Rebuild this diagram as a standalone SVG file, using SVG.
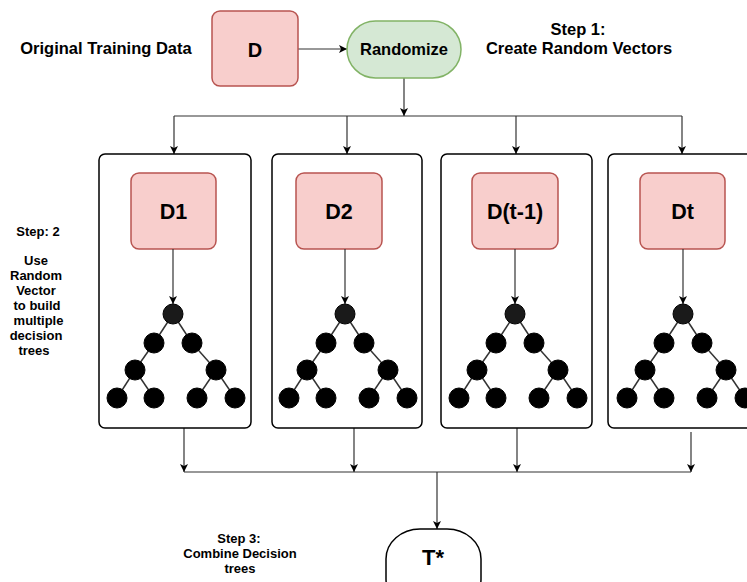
<svg xmlns="http://www.w3.org/2000/svg" xmlns:xlink="http://www.w3.org/1999/xlink" width="747" height="582" viewBox="0 0 747 582">
  <style>
    text { font-family: "Liberation Sans", Arial, sans-serif; fill: #000; text-anchor: middle; }
    .lbl { font-size: 16.5px; font-weight: bold; }
    .note { font-size: 13px; font-weight: bold; }
    .big { font-size: 21.5px; font-weight: bold; }
    .data { fill: #f8cecc; stroke: #b85450; stroke-width: 1.5; }
    .rand { fill: #d5e8d4; stroke: #82b366; stroke-width: 1.5; }
    .frame { fill: #fff; stroke: #000; stroke-width: 1.5; }
    .edge { fill: none; stroke: #333; stroke-width: 1.2; }
    .arrow { fill: none; stroke: #333; stroke-width: 1.2; marker-end: url(#arr); }
    .tedge { stroke: #333; stroke-width: 1.5; }
    .leaf { fill: #000; stroke: #000; stroke-width: 1; }
    .root { fill: #1a1a1a; stroke: #000; stroke-width: 1; }
  </style>
  <defs>
    <marker id="arr" viewBox="0 0 10 10" refX="10" refY="5" markerWidth="8" markerHeight="8" markerUnits="userSpaceOnUse" orient="auto">
      <path d="M0,0 L10,5 L0,10 L2.5,5 z" fill="#000"/>
    </marker>
    <!-- binary decision tree, root at the origin -->
    <g id="tree">
      <line class="tedge" x1="0" y1="0" x2="-19" y2="29"/>
      <line class="tedge" x1="0" y1="0" x2="19" y2="29"/>
      <line class="tedge" x1="-19" y1="29" x2="-38" y2="56"/>
      <line class="tedge" x1="19" y1="29" x2="43" y2="56"/>
      <line class="tedge" x1="-38" y1="56" x2="-56" y2="84"/>
      <line class="tedge" x1="-38" y1="56" x2="-19" y2="84"/>
      <line class="tedge" x1="43" y1="56" x2="24" y2="84"/>
      <line class="tedge" x1="43" y1="56" x2="62" y2="84"/>
      <circle class="root" cx="0" cy="0" r="10"/>
      <circle class="leaf" cx="-19" cy="29" r="10"/>
      <circle class="leaf" cx="19" cy="29" r="10"/>
      <circle class="leaf" cx="-38" cy="56" r="10"/>
      <circle class="leaf" cx="43" cy="56" r="10"/>
      <circle class="leaf" cx="-56" cy="84" r="10"/>
      <circle class="leaf" cx="-19" cy="84" r="10"/>
      <circle class="leaf" cx="24" cy="84" r="10"/>
      <circle class="leaf" cx="62" cy="84" r="10"/>
    </g>
  </defs>

  <rect width="747" height="582" fill="#fff"/>

  <!-- side notes -->
  <g id="notes">
    <text class="lbl" x="106" y="54">Original Training Data</text>
    <text class="lbl" x="578" y="35">Step 1:</text>
    <text class="lbl" x="579" y="54">Create Random Vectors</text>
    <text class="note" x="38" y="236">Step: 2</text>
    <text class="note" x="36" y="265">Use</text>
    <text class="note" x="36" y="280">Random</text>
    <text class="note" x="36" y="295">Vector</text>
    <text class="note" x="37" y="310">to build</text>
    <text class="note" x="38.5" y="325">multiple</text>
    <text class="note" x="36" y="340">decision</text>
    <text class="note" x="34" y="355">trees</text>
    <text class="note" x="239" y="543">Step 3:</text>
    <text class="note" x="240" y="558">Combine Decision</text>
    <text class="note" x="240" y="573">trees</text>
  </g>

  <!-- connectors -->
  <g id="connectors">
    <line class="arrow" x1="298" y1="49" x2="347" y2="49"/>
    <line class="arrow" x1="404" y1="78" x2="404" y2="116"/>
    <line class="edge" x1="174" y1="116" x2="682" y2="116"/>
    <line class="arrow" x1="174" y1="116" x2="174" y2="154"/>
    <line class="arrow" x1="347" y1="116" x2="347" y2="154"/>
    <line class="arrow" x1="516" y1="116" x2="516" y2="154"/>
    <line class="arrow" x1="682" y1="116" x2="682" y2="154"/>
    <line class="edge" x1="184" y1="472" x2="691" y2="472"/>
    <line class="arrow" x1="184" y1="428" x2="184" y2="472"/>
    <line class="arrow" x1="354" y1="428" x2="354" y2="472"/>
    <line class="arrow" x1="517" y1="428" x2="517" y2="472"/>
    <line class="arrow" x1="691" y1="432" x2="691" y2="472"/>
    <line class="arrow" x1="437" y1="472" x2="437" y2="529"/>
  </g>

  <!-- source data -->
  <g id="node-d">
    <rect class="data" x="212" y="11" width="86" height="75" rx="8"/>
    <text class="big" x="255" y="57" style="font-size:20px">D</text>
  </g>

  <g id="node-randomize">
    <rect class="rand" x="347" y="21" width="114" height="57" rx="28.5"/>
    <text class="lbl" x="404" y="55">Randomize</text>
  </g>

  <!-- bootstrap samples with their trees -->
  <g id="node-d1">
    <rect class="frame" x="99" y="154" width="152" height="274" rx="6"/>
    <rect class="data" x="131" y="173" width="85" height="76" rx="8"/>
    <text class="big" x="173.5" y="219">D1</text>
    <line class="arrow" x1="173" y1="249" x2="173" y2="304"/>
    <use xlink:href="#tree" href="#tree" x="173" y="314"/>
  </g>

  <g id="node-d2">
    <rect class="frame" x="272" y="154" width="150" height="274" rx="6"/>
    <rect class="data" x="296" y="173" width="86" height="76" rx="8"/>
    <text class="big" x="339" y="219">D2</text>
    <line class="arrow" x1="345" y1="249" x2="345" y2="304"/>
    <use xlink:href="#tree" href="#tree" x="345" y="314"/>
  </g>

  <g id="node-dt1">
    <rect class="frame" x="441" y="154" width="151" height="274" rx="6"/>
    <rect class="data" x="472" y="173" width="86" height="76" rx="8"/>
    <text class="big" x="515" y="219">D(t-1)</text>
    <line class="arrow" x1="515" y1="249" x2="515" y2="304"/>
    <use xlink:href="#tree" href="#tree" x="515" y="314"/>
  </g>

  <g id="node-dt">
    <rect class="frame" x="608" y="154" width="152" height="274" rx="6"/>
    <rect class="data" x="640" y="173" width="85" height="76" rx="8"/>
    <text class="big" x="682.5" y="219">Dt</text>
    <line class="arrow" x1="683" y1="249" x2="683" y2="304"/>
    <use xlink:href="#tree" href="#tree" x="683" y="314"/>
  </g>

  <!-- combined ensemble -->
  <g id="node-tstar">
    <rect class="frame" x="386" y="529" width="95" height="80" rx="34" ry="30"/>
    <text x="433" y="565" style="font-size:22px;font-weight:bold">T*</text>
  </g>
</svg>
